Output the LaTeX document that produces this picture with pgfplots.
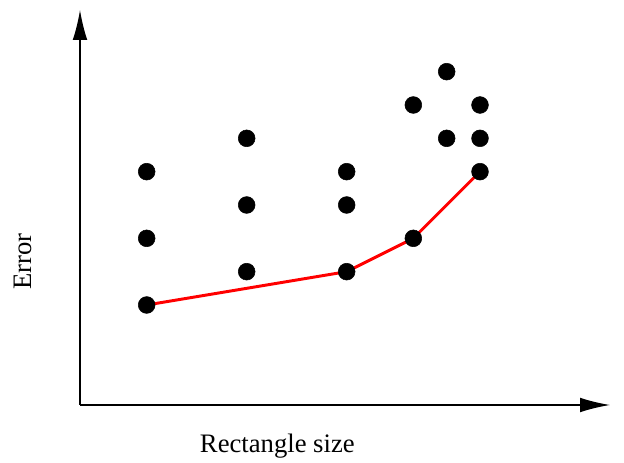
\documentclass[border=0pt]{standalone}
\usepackage{pgfplots}
\pgfplotsset{compat=1.18}
\usepackage{fontspec}
\setmainfont{Liberation Serif}
\usetikzlibrary{arrows.meta}

\begin{document}
\begin{tikzpicture}[x=1pt,y=1pt]
\begin{axis}[
  scale only axis,
  width=397.5pt, height=296.25pt,
  xmin=0, xmax=15.9, ymin=0, ymax=11.85,
  axis lines=left,
  axis line style={line width=1pt, -{Latex[length=22.5pt,width=11pt]}},
  xtick=\empty, ytick=\empty,
  clip=false,
]
% measurements
\addplot[only marks, mark=*, mark size=6.3pt, black] coordinates {
  (2,3) (2,5) (2,7)
  (5,4) (5,6) (5,8)
  (8,4) (8,6) (8,7)
  (10,5) (10,9)
  (11,8) (11,10)
  (12,7) (12,8) (12,9)
};
% lower envelope
\addplot[red, line width=2.2pt] coordinates {
  (2,3) (8,4) (10,5) (12,7)
};
\node[font=\fontsize{20}{24}\selectfont] at (axis cs:5.92,-1.22) {Rectangle size};
\node[font=\fontsize{20}{24}\selectfont, rotate=90] at (axis cs:-1.72,4.3) {Error};
\path (axis cs:-2.4,-1.68) rectangle (axis cs:16.32,12.15);
\end{axis}
\end{tikzpicture}
\end{document}
